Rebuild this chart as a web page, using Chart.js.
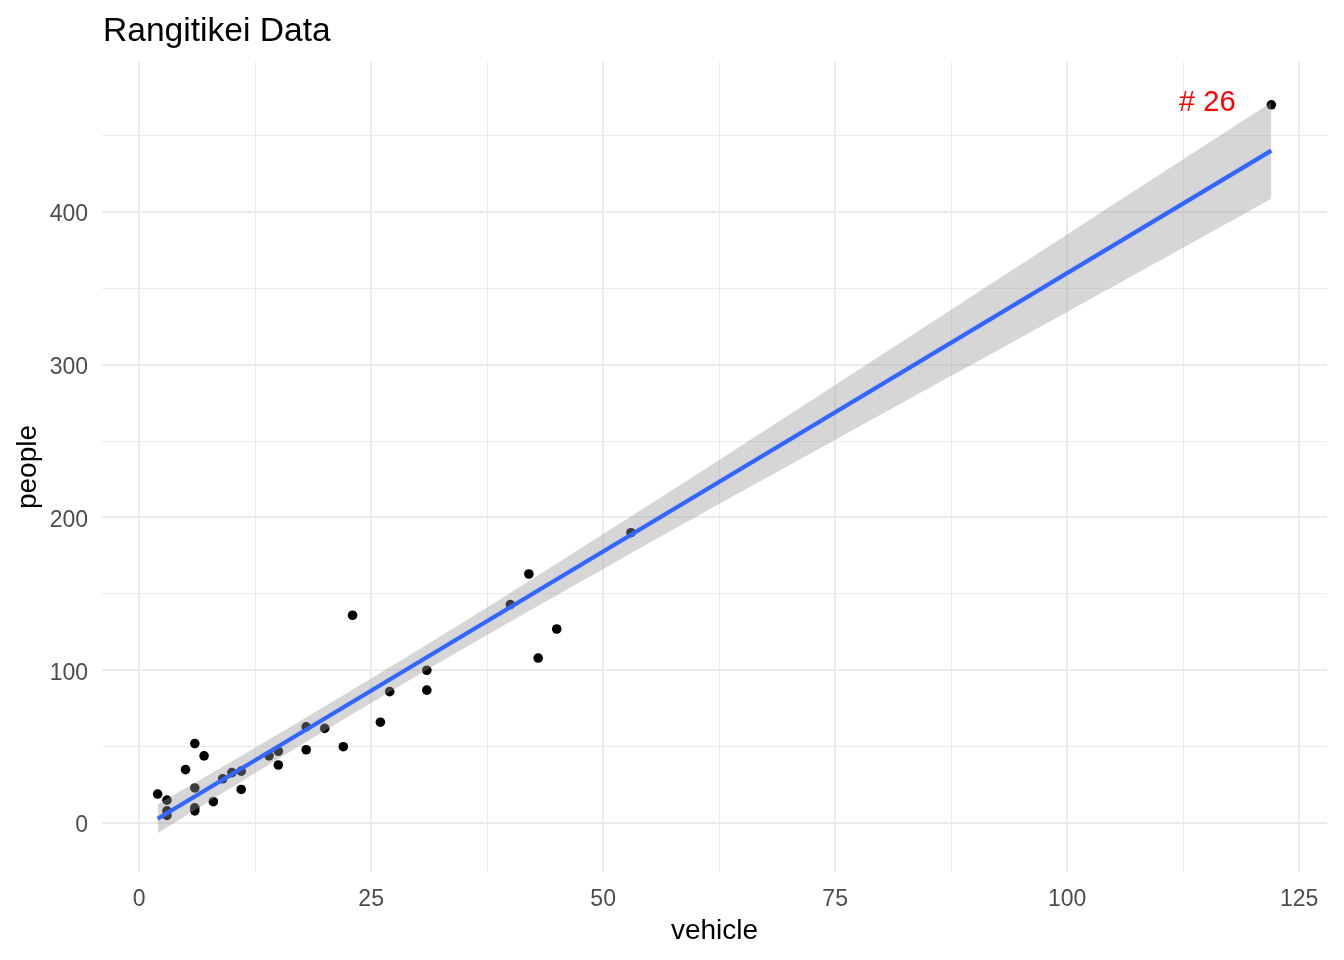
<!DOCTYPE html>
<html>
<head>
<meta charset="utf-8">
<title>Rangitikei Data</title>
<script src="https://cdn.jsdelivr.net/npm/chart.js@4.4.1/dist/chart.umd.min.js"></script>
<style>
  html, body { margin: 0; padding: 0; background: #fff; }
  #wrap { width: 1344px; height: 960px; }
</style>
</head>
<body>
<div id="wrap"><canvas id="chart" width="1344" height="960"></canvas></div>
<script>
// Points
const vehicle = [2, 3, 3, 3, 6, 7, 5, 6, 6, 6, 8, 9, 10, 11, 11, 14, 15, 15, 18, 18,
                 20, 22, 26, 23, 27, 31, 31, 40, 42, 45, 43, 53, 122];
const people  = [19, 15, 8, 5, 52, 44, 35, 23, 10, 8, 14, 29, 33, 34, 22, 44, 47, 38, 63, 48,
                 62, 50, 66, 136, 86, 100, 87, 143, 163, 127, 108, 190, 470];

// Fitted line ends and the grey band around it
const fitX = [2, 122];
const fitY = [2.8, 440];
const bandX    = [2, 12, 21, 32, 42, 52, 62, 75, 88, 100, 111, 122];
const bandHigh = [12.3, 47.5, 80.0, 120.5, 158.3, 196.8, 235.6, 286.7, 337.9, 385.1, 428.4, 471.5];
const bandLow  = [-6.7, 30.9, 64.0, 103.7, 138.7, 173.2, 207.2, 250.7, 294.3, 334.5, 371.4, 408.5];

// Axis ticks (majors get labels, minors only grid lines)
const xTicks = [0, 12.5, 25, 37.5, 50, 62.5, 75, 87.5, 100, 112.5, 125];
const yTicks = [0, 50, 100, 150, 200, 250, 300, 350, 400, 450];

// Label next to the outlier
const noteText = '# 26';
const noteX = 115.1;
const noteY = 471.5;

const FONT = '"Liberation Sans", Arial, sans-serif';

function pairs(xs, ys) {
    return xs.map((x, i) => ({ x: x, y: ys[i] }));
}

// Title and outlier label drawn straight on the canvas
const textPlugin = {
    id: 'texts',
    afterDraw(chart) {
        const ctx = chart.ctx;
        const sx = chart.scales.x;
        const sy = chart.scales.y;
        ctx.save();
        ctx.fillStyle = '#000';
        ctx.font = '33.6px ' + FONT;
        ctx.textAlign = 'left';
        ctx.textBaseline = 'alphabetic';
        ctx.fillText('Rangitikei Data', 103, 41);

        ctx.fillStyle = '#FF0000';
        ctx.font = '29px ' + FONT;
        ctx.textAlign = 'center';
        ctx.textBaseline = 'middle';
        ctx.fillText(noteText, sx.getPixelForValue(noteX), sy.getPixelForValue(noteY));
        ctx.restore();
    }
};

const gridWidth = (step) => (c) => (c.tick && c.tick.value % step === 0) ? 2 : 1;

new Chart(document.getElementById('chart'), {
    type: 'scatter',
    data: {
        datasets: [
            {
                type: 'line',
                label: 'fit',
                data: pairs(fitX, fitY),
                borderColor: '#3366FF',
                borderWidth: 4.2,
                pointRadius: 0,
                fill: false,
                order: 1
            },
            {
                type: 'line',
                label: 'upper',
                data: pairs(bandX, bandHigh),
                borderWidth: 0,
                borderColor: 'rgba(0,0,0,0)',
                backgroundColor: 'rgba(153,153,153,0.4)',
                pointRadius: 0,
                tension: 0.3,
                fill: '+1',
                order: 2
            },
            {
                type: 'line',
                label: 'lower',
                data: pairs(bandX, bandLow),
                borderWidth: 0,
                borderColor: 'rgba(0,0,0,0)',
                pointRadius: 0,
                tension: 0.3,
                fill: false,
                order: 2
            },
            {
                label: 'points',
                data: pairs(vehicle, people),
                backgroundColor: '#000',
                borderWidth: 0,
                pointRadius: 4.8,
                order: 3
            }
        ]
    },
    options: {
        responsive: false,
        animation: false,
        layout: { padding: { top: 62, right: 17, left: 0, bottom: 0 } },
        plugins: {
            legend: { display: false },
            tooltip: { enabled: false }
        },
        scales: {
            x: {
                type: 'linear',
                min: -4,
                max: 128,
                afterBuildTicks: s => { s.ticks = xTicks.map(v => ({ value: v })); },
                afterFit: s => { s.height = 88; },
                border: { display: false },
                grid: { color: '#EBEBEB', lineWidth: gridWidth(25), drawTicks: false },
                ticks: {
                    autoSkip: false,
                    maxRotation: 0,
                    padding: 14,
                    color: '#4D4D4D',
                    font: { family: FONT, size: 23 },
                    callback: v => (v % 25 === 0 ? String(v) : '')
                },
                title: {
                    display: true,
                    text: 'vehicle',
                    color: '#000',
                    font: { family: FONT, size: 28 },
                    padding: { top: 0, bottom: 12 }
                }
            },
            y: {
                type: 'linear',
                min: -32,
                max: 498,
                afterBuildTicks: s => { s.ticks = yTicks.map(v => ({ value: v })); },
                afterFit: s => { s.width = 102; },
                border: { display: false },
                grid: { color: '#EBEBEB', lineWidth: gridWidth(100), drawTicks: false },
                ticks: {
                    autoSkip: false,
                    padding: 14,
                    labelOffset: 3,
                    color: '#4D4D4D',
                    font: { family: FONT, size: 23 },
                    callback: v => (v % 100 === 0 ? String(v) : '')
                },
                title: {
                    display: true,
                    text: 'people',
                    color: '#000',
                    font: { family: FONT, size: 28 },
                    padding: { top: 11, bottom: 0 }
                }
            }
        }
    },
    plugins: [textPlugin]
});
</script>
</body>
</html>
